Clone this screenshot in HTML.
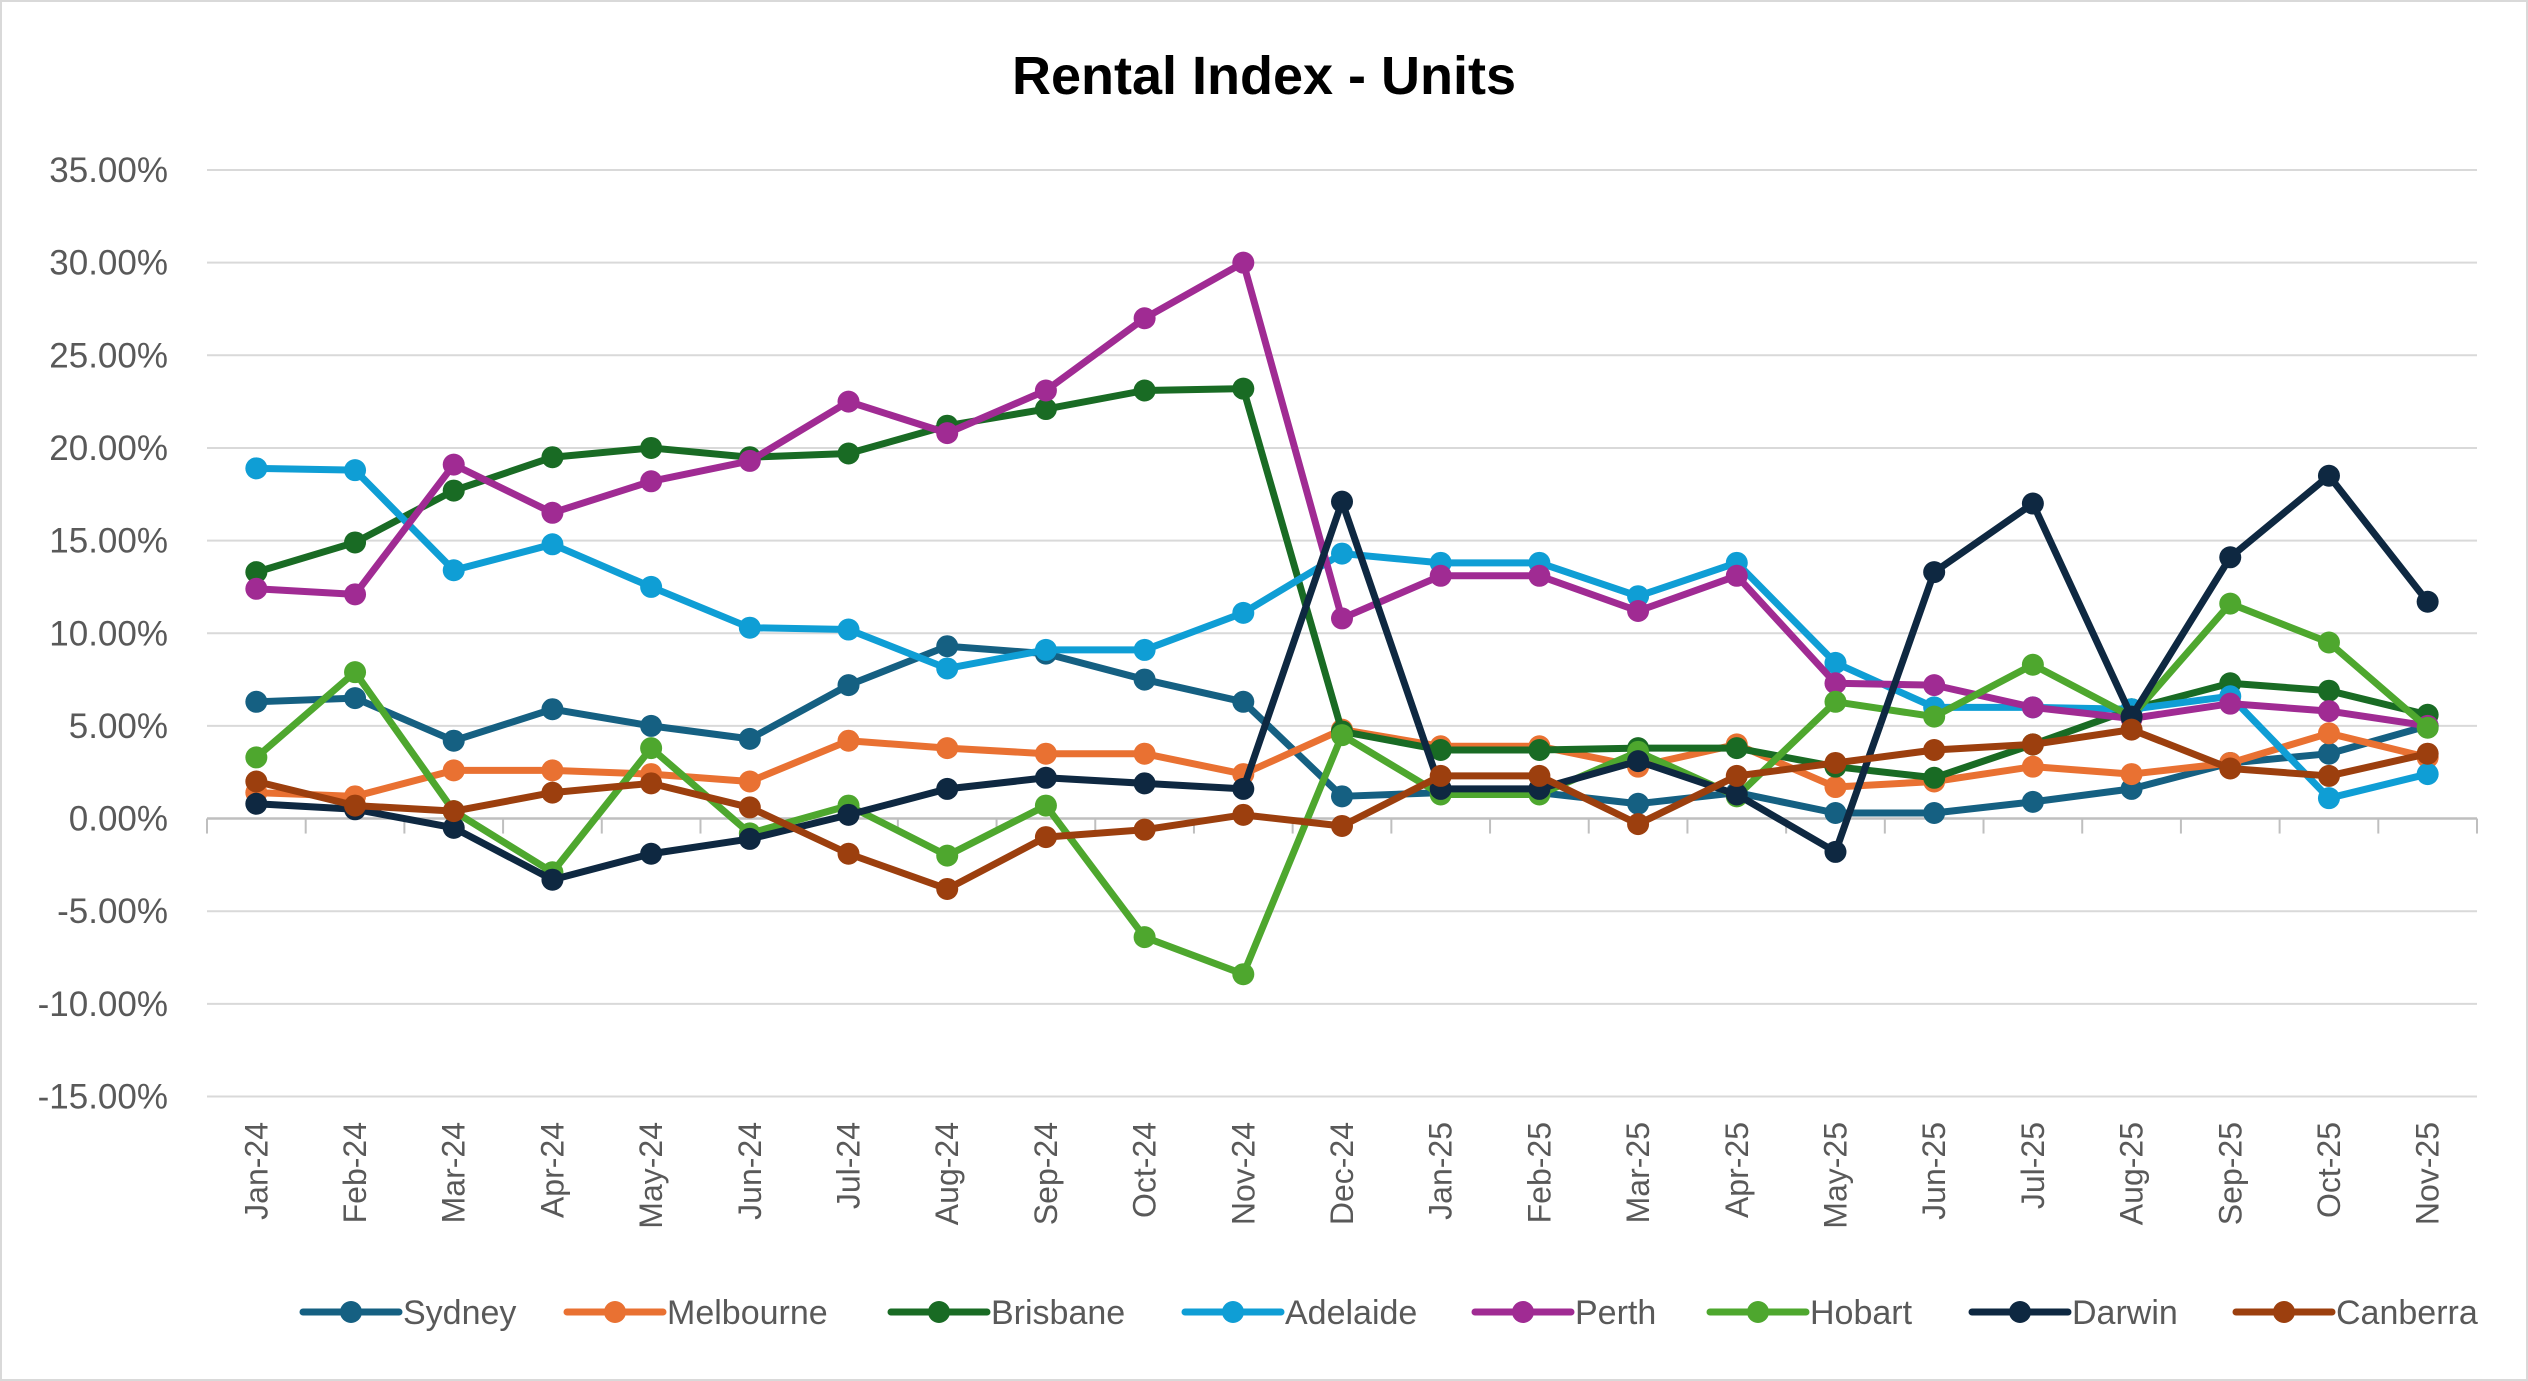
<!DOCTYPE html>
<html><head><meta charset="utf-8">
<style>
html,body{margin:0;padding:0;background:#fff;}
body{width:2528px;height:1381px;overflow:hidden;}
svg{display:block;font-family:"Liberation Sans",sans-serif;}
</style></head>
<body>
<svg id="chart" width="2528" height="1381" viewBox="0 0 2528 1381" xmlns="http://www.w3.org/2000/svg">
<rect x="1" y="1" width="2526" height="1379" fill="#fff" stroke="#d9d9d9" stroke-width="2"/>
<text x="1264" y="94" text-anchor="middle" font-size="54" font-weight="bold" fill="#000">Rental Index - Units</text>
<g id="grid"></g><g id="series"></g><g id="legend"></g>
</svg>
<script>
const categories=["Jan-24","Feb-24","Mar-24","Apr-24","May-24","Jun-24","Jul-24","Aug-24","Sep-24","Oct-24","Nov-24","Dec-24","Jan-25","Feb-25","Mar-25","Apr-25","May-25","Jun-25","Jul-25","Aug-25","Sep-25","Oct-25","Nov-25"];
const yTicks=[35,30,25,20,15,10,5,0,-5,-10,-15];
const seriesNames=["Sydney","Melbourne","Brisbane","Adelaide","Perth","Hobart","Darwin","Canberra"];
const seriesColors=["#156082","#E97132","#196B24","#0F9ED5","#A02B93","#4EA72E","#0E2841","#9C3F0E"];
const sydney=[6.3,6.5,4.2,5.9,5.0,4.3,7.2,9.3,8.9,7.5,6.3,1.2,1.4,1.4,0.8,1.4,0.3,0.3,0.9,1.6,3.0,3.5,5.0];
const melbourne=[1.4,1.2,2.6,2.6,2.4,2.0,4.2,3.8,3.5,3.5,2.4,4.8,3.9,3.9,2.8,4.0,1.7,2.0,2.8,2.4,3.0,4.6,3.3];
const brisbane=[13.3,14.9,17.7,19.5,20.0,19.5,19.7,21.2,22.1,23.1,23.2,4.7,3.7,3.7,3.8,3.8,2.8,2.2,4.0,5.9,7.3,6.9,5.6];
const adelaide=[18.9,18.8,13.4,14.8,12.5,10.3,10.2,8.1,9.1,9.1,11.1,14.3,13.8,13.8,12.0,13.8,8.4,6.0,6.0,5.9,6.6,1.1,2.4];
const perth=[12.4,12.1,19.1,16.5,18.2,19.3,22.5,20.8,23.1,27.0,30.0,10.8,13.1,13.1,11.2,13.1,7.3,7.2,6.0,5.4,6.2,5.8,5.0];
const hobart=[3.3,7.9,0.4,-2.9,3.8,-0.8,0.7,-2.0,0.7,-6.4,-8.4,4.5,1.3,1.3,3.6,1.2,6.3,5.5,8.3,5.5,11.6,9.5,4.9];
const darwin=[0.8,0.5,-0.5,-3.3,-1.9,-1.1,0.2,1.6,2.2,1.9,1.6,17.1,1.6,1.6,3.1,1.3,-1.8,13.3,17.0,5.5,14.1,18.5,11.7];
const canberra=[2.0,0.7,0.4,1.4,1.9,0.6,-1.9,-3.8,-1.0,-0.6,0.2,-0.4,2.3,2.3,-0.3,2.3,3.0,3.7,4.0,4.8,2.7,2.3,3.5];
const allSeries=[sydney,melbourne,brisbane,adelaide,perth,hobart,darwin,canberra];

const NS="http://www.w3.org/2000/svg";
const plotL=207,plotR=2477,yTop=170,yBot=1096.5,yMax=35,yMin=-15;
const step=(plotR-plotL)/categories.length;
function xPos(i){return plotL+step*(i+0.5);}
function yPos(v){return yTop+(yMax-v)/(yMax-yMin)*(yBot-yTop);}
function mk(tag,attrs,parent){const e=document.createElementNS(NS,tag);for(const k in attrs)e.setAttribute(k,attrs[k]);parent.appendChild(e);return e;}

const grid=document.getElementById('grid');
yTicks.forEach(t=>{
  const y=yPos(t);
  const gl=mk('line',{x1:plotL,x2:plotR,y1:y,y2:y,stroke:t===0?'#bfbfbf':'#d9d9d9','stroke-width':t===0?2.5:2},grid);
  
  
  const tl=mk('text',{x:168,y:y+12,'text-anchor':'end','font-size':35,fill:'#595959'},grid);
  tl.textContent=t.toFixed(2)+'%';
  
  
});
const y0=yPos(0);
for(let i=0;i<=categories.length;i++){
  const x=plotL+step*i;
  const tk=mk('line',{x1:x,x2:x,y1:y0,y2:y0+15,stroke:'#bfbfbf','stroke-width':2},grid);
  
  
}
categories.forEach((c,i)=>{
  const x=xPos(i);
  const tl=mk('text',{x:0,y:0,'text-anchor':'end','font-size':32,fill:'#595959',transform:`translate(${x+11},1122) rotate(-90)`},grid);
  tl.textContent=c;
  
  
});

const sg=document.getElementById('series');
allSeries.forEach((vals,s)=>{
  const g=mk('g',{},sg);
  
  
  const pts=vals.map((v,i)=>xPos(i)+','+yPos(v)).join(' ');
  const pl=mk('polyline',{points:pts,fill:'none',stroke:seriesColors[s],'stroke-width':7,'stroke-linejoin':'round','stroke-linecap':'round'},g);
  
  
  vals.forEach((v,i)=>{
    const c=mk('circle',{cx:xPos(i),cy:yPos(v),r:11,fill:seriesColors[s]},g);
    
    
  });
});

const lg=document.getElementById('legend');
const legendX=[303,567,891,1185,1475,1710,1972,2236];
seriesNames.forEach((n,s)=>{
  const g=mk('g',{},lg);
  
  
  const x=legendX[s],y=1312;
  mk('line',{x1:x,x2:x+96,y1:y,y2:y,stroke:seriesColors[s],'stroke-width':7,'stroke-linecap':'round'},g);
  mk('circle',{cx:x+48,cy:y,r:11,fill:seriesColors[s]},g);
  const t=mk('text',{x:x+100,y:y+12,'font-size':34,fill:'#595959'},g);
  t.textContent=n;
});
</script>
</body></html>
